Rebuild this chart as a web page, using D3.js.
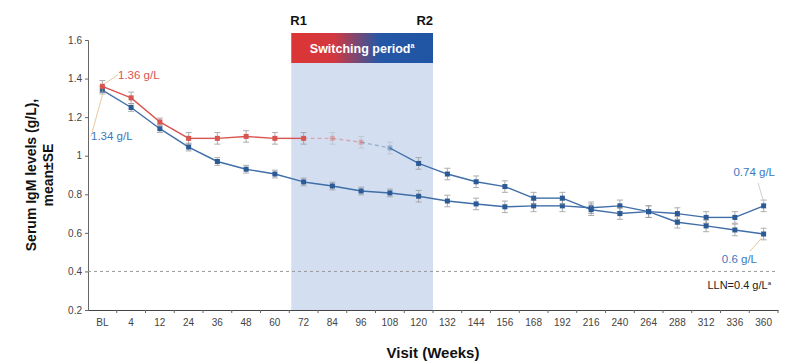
<!DOCTYPE html>
<html>
<head>
<meta charset="utf-8">
<script src="https://cdn.jsdelivr.net/npm/d3@7"></script>
<style>
  body { margin: 0; background: #fff; }
  svg { font-family: Arial, "Liberation Sans", sans-serif; }
  .tick text { fill: #444; font-size: 10px; }
</style>
</head>
<body>
<div id="chart"></div>
<script>
// Visits (weeks)
const visits = ["BL","4","12","24","36","48","60","72","84","96","108","120","132","144","156","168","192","216","240","264","288","312","336","360"];
// Group that switched during R1-R2
const switchMean = [1.36,1.30,1.175,1.09,1.09,1.10,1.09,1.09,1.09,1.07,1.04,0.96,0.905,0.865,0.84,0.78,0.78,0.72,0.70,0.71,0.655,0.636,0.615,0.594];
const switchSE   = [0.03,0.03,0.02,0.03,0.03,0.03,0.03,0.03,0.03,0.03,0.03,0.03,0.03,0.03,0.03,0.03,0.03,0.03,0.03,0.03,0.03,0.03,0.03,0.03];
// Group on continuous treatment
const contMean = [1.34,1.25,1.14,1.045,0.97,0.93,0.905,0.864,0.843,0.817,0.807,0.79,0.765,0.75,0.735,0.74,0.74,0.73,0.74,0.71,0.70,0.68,0.68,0.74];
const contSE   = [0.02,0.02,0.02,0.02,0.02,0.02,0.02,0.02,0.02,0.02,0.02,0.03,0.03,0.03,0.03,0.03,0.03,0.03,0.03,0.03,0.03,0.03,0.03,0.03];
const yTicks = [0.2,0.4,0.6,0.8,1,1.2,1.4,1.6];
const lln = 0.4;

const width = 790, height = 364;
const svg = d3.select("#chart").append("svg")
    .attr("width", width)
    .attr("height", height);

const x = d3.scaleBand().domain(visits).range([88, 778]).padding(0);
const y = d3.scaleLinear().domain([0.2, 1.6]).range([310, 40]);
const cx = v => x(v) + x.bandwidth() / 2;

const red = "#d9534f", lineBlue = "#3f6ea8";

// switching period shading
const sx0 = x("72") + 2, sx1 = x("132");
svg.append("rect")
    .attr("x", sx0).attr("y", 63)
    .attr("width", sx1 - sx0).attr("height", y(0.2) - 63)
    .attr("fill", "#d3dff0");

const grad = svg.append("defs").append("linearGradient")
    .attr("id", "swgrad").attr("x1", "0%").attr("x2", "100%");
grad.append("stop").attr("offset", "0%").attr("stop-color", "#dc3535");
grad.append("stop").attr("offset", "30%").attr("stop-color", "#d3383f");
grad.append("stop").attr("offset", "62%").attr("stop-color", "#2557a6");
grad.append("stop").attr("offset", "100%").attr("stop-color", "#1f55a4");

svg.append("rect")
    .attr("x", sx0).attr("y", 33)
    .attr("width", sx1 - sx0).attr("height", 30)
    .attr("fill", "url(#swgrad)");

const swText = svg.append("text")
    .attr("x", (sx0 + sx1) / 2).attr("y", 52.5)
    .attr("text-anchor", "middle")
    .attr("fill", "#fff").attr("font-weight", "bold").attr("font-size", 12.5);
swText.append("tspan").text("Switching period");
swText.append("tspan").attr("font-size", 7).attr("dy", -5).text("a");

svg.append("text").attr("x", sx0 - 1).attr("y", 25)
    .attr("font-weight", "bold").attr("font-size", 13).attr("fill", "#111").text("R1");
svg.append("text").attr("x", sx1).attr("y", 25).attr("text-anchor", "end")
    .attr("font-weight", "bold").attr("font-size", 13).attr("fill", "#111").text("R2");

// axes
const yAxis = d3.axisLeft(y).tickValues(yTicks).tickSize(3).tickFormat(d => d === 1 ? "1" : d3.format(".1f")(d));
svg.append("g").attr("transform", "translate(88,0)").call(yAxis)
    .call(g => g.selectAll("line, path").attr("stroke", "#666"));

const xAxis = d3.axisBottom(x).tickSize(0).tickPadding(9);
const xg = svg.append("g").attr("transform", `translate(0,${y(0.2)})`).call(xAxis);
xg.select(".domain").attr("stroke", "#444").attr("stroke-width", 1.2);
xg.selectAll(".tick").each(function (d) {
  d3.select(this).append("line")
      .attr("x1", x.bandwidth() / 2).attr("x2", x.bandwidth() / 2)
      .attr("y1", 0).attr("y2", 3).attr("stroke", "#666");
});

svg.append("text")
    .attr("x", 433).attr("y", 358)
    .attr("text-anchor", "middle")
    .attr("font-weight", "bold").attr("font-size", 15).attr("fill", "#111")
    .text("Visit (Weeks)");

const yTitle = svg.append("text")
    .attr("transform", "translate(36,175) rotate(-90)")
    .attr("text-anchor", "middle")
    .attr("font-weight", "bold").attr("font-size", 14).attr("fill", "#111");
yTitle.append("tspan").attr("x", 0).attr("y", 0).text("Serum IgM levels (g/L),");
yTitle.append("tspan").attr("x", 0).attr("y", 17).text("mean±SE");

// LLN line
svg.append("line")
    .attr("x1", 88).attr("x2", 778)
    .attr("y1", y(lln)).attr("y2", y(lln))
    .attr("stroke", "#999").attr("stroke-dasharray", "3,3");
const llnText = svg.append("text")
    .attr("x", 771).attr("y", y(lln) + 18)
    .attr("text-anchor", "end").attr("font-size", 11).attr("fill", "#222");
llnText.append("tspan").text("LLN=0.4 g/L");
llnText.append("tspan").attr("font-size", 6).attr("dy", -4).text("a");

// colour and fading of the switch group by visit index
function swColor(i) { return i <= 9 ? red : "#2b5a94"; }
function swFaded(i) { return i >= 8 && i <= 10; }

function drawSeries(mean, se, colorFn, fadeFn, lineColorFn) {
  const g = svg.append("g");
  // line segments
  for (let i = 0; i < visits.length - 1; i++) {
    const faded = fadeFn(i + 1) || (fadeFn(i) && i + 1 <= 10);
    g.append("line")
        .attr("x1", cx(visits[i])).attr("y1", y(mean[i]))
        .attr("x2", cx(visits[i + 1])).attr("y2", y(mean[i + 1]))
        .attr("stroke", lineColorFn(i + 1))
        .attr("stroke-width", 1.4)
        .attr("stroke-dasharray", faded ? "4,3" : null)
        .attr("opacity", faded ? 0.4 : 1);
  }
  // error bars
  visits.forEach((v, i) => {
    const op = fadeFn(i) ? 0.35 : 0.8;
    const bx = cx(v);
    const eg = g.append("g").attr("stroke", "#9a9a9a").attr("stroke-width", 1).attr("opacity", op);
    eg.append("line").attr("x1", bx).attr("x2", bx).attr("y1", y(mean[i] - se[i])).attr("y2", y(mean[i] + se[i]));
    eg.append("line").attr("x1", bx - 3).attr("x2", bx + 3).attr("y1", y(mean[i] + se[i])).attr("y2", y(mean[i] + se[i]));
    eg.append("line").attr("x1", bx - 3).attr("x2", bx + 3).attr("y1", y(mean[i] - se[i])).attr("y2", y(mean[i] - se[i]));
  });
  // markers
  g.selectAll("rect.pt").data(mean).join("rect")
      .attr("class", "pt")
      .attr("x", (d, i) => cx(visits[i]) - 2.5)
      .attr("y", d => y(d) - 2.5)
      .attr("width", 5).attr("height", 5)
      .attr("fill", (d, i) => colorFn(i))
      .attr("opacity", (d, i) => fadeFn(i) ? 0.35 : 1);
}

drawSeries(contMean, contSE, () => "#2b5a94", () => false, () => lineBlue);
drawSeries(switchMean, switchSE, swColor, swFaded, i => i <= 9 ? red : lineBlue);

// value labels with leader lines
function label(txt, color, lx, ly, px, py, anchor) {
  svg.append("line").attr("x1", px).attr("y1", py).attr("x2", lx).attr("y2", ly)
      .attr("stroke", "#e9c9a0").attr("stroke-width", 1);
  svg.append("text").attr("x", lx).attr("y", ly + 4)
      .attr("text-anchor", anchor).attr("font-size", 11.5).attr("fill", color).text(txt);
}
const last = visits.length - 1;
label("1.36 g/L", "#d9534f", 118, y(1.42), cx("BL") + 3, y(switchMean[0]) - 3, "start");
label("1.34 g/L", "#3b78c0", 91, y(1.1), cx("BL"), y(contMean[0]) + 5, "start");
svg.append("text").attr("x", 775).attr("y", y(0.895)).attr("text-anchor", "end")
    .attr("font-size", 11.5).attr("fill", "#3b78c0").text("0.74 g/L");
svg.append("line").attr("x1", cx(visits[last])).attr("y1", y(contMean[last]) - 4)
    .attr("x2", 758).attr("y2", y(0.86)).attr("stroke", "#cfcfcf");
svg.append("text").attr("x", 757).attr("y", y(0.445)).attr("text-anchor", "end")
    .attr("font-size", 11.5).attr("fill", "#3b78c0").text("0.6 g/L");
svg.append("line").attr("x1", cx(visits[last]) - 2).attr("y1", y(switchMean[last]) + 4)
    .attr("x2", 750).attr("y2", y(0.505)).attr("stroke", "#e9c9a0");
</script>
</body>
</html>
